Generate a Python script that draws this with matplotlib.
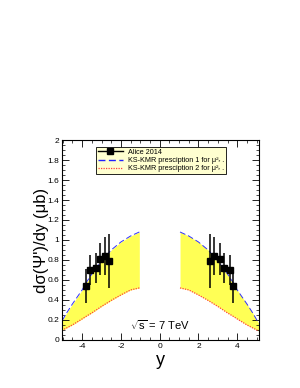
import numpy as np
import matplotlib
matplotlib.use("Agg")
import matplotlib.pyplot as plt
from matplotlib.ticker import MultipleLocator

plt.rcParams['font.family'] = ['Liberation Sans', 'DejaVu Sans']
plt.rcParams['mathtext.fontset'] = 'custom'
plt.rcParams['mathtext.rm'] = 'Liberation Sans'
plt.rcParams['mathtext.it'] = 'Liberation Sans:italic'

# ALICE 2014 psi(2S) data (forward rapidity, mirrored)
alice_y = [2.62, 2.82, 3.10, 3.30, 3.62, 3.80]
alice_val = [0.79, 0.84, 0.81, 0.72, 0.70, 0.54]
alice_err = [0.27, 0.19, 0.16, 0.15, 0.15, 0.17]

# KS-KMR band edges, |y| grid
band_y = [1.05, 1.5, 2.0, 2.5, 3.0, 3.5, 3.8, 4.0, 4.5, 4.8, 5.1]
band_hi = [1.08, 1.04, 0.98, 0.90, 0.79, 0.66, 0.57, 0.50, 0.36, 0.27, 0.17]
band_lo = [0.52, 0.50, 0.45, 0.395, 0.335, 0.27, 0.235, 0.21, 0.15, 0.12, 0.09]

fig = plt.figure(figsize=(3.0, 3.88), dpi=100)
ax = fig.add_axes([0.206, 0.124, 0.657, 0.515])

by = np.array(band_y)
hi = np.array(band_hi)
lo = np.array(band_lo)
for sgn in (-1, 1):
    xs = sgn * by
    ax.fill_between(xs, lo, hi, color='#ffff55', lw=0, zorder=1)
    ax.plot(xs, hi, color='#3030ff', ls=(0, (6, 3)), lw=0.7, zorder=2)
    ax.plot(xs, lo, color='#ff4040', ls=(0, (1, 1)), lw=0.9, zorder=2)

ay = np.array(alice_y)
av = np.array(alice_val)
ae = np.array(alice_err)
for sgn in (-1, 1):
    ax.errorbar(sgn * ay, av, yerr=ae, xerr=0.1, fmt='s', color='black',
                ms=4.5, lw=1.1, elinewidth=1.1, capsize=0, zorder=3)

# legend entries
ax.plot([], [], color='black', marker='s', ms=4, lw=1.0, label='Alice 2014')
ax.plot([], [], color='#2020ff', ls=(0, (5, 2.5)), lw=1.0,
        label='KS-KMR presciption 1 for \u03bc\u00b2\u1d63 .')
ax.plot([], [], color='#ff4040', ls=(0, (1, 1)), lw=0.9,
        label='KS-KMR presciption 2 for \u03bc\u00b2\u1d63 .')
h, l = ax.get_legend_handles_labels()
leg = ax.legend(h[-3:], l[-3:], loc='upper left', bbox_to_anchor=(0.175, 0.965),
                fontsize=5.2, frameon=True, fancybox=False, handlelength=3.4,
                borderpad=0.25, labelspacing=0.15, handletextpad=0.7,
                borderaxespad=0)
leg.get_frame().set_facecolor('#ffffd0')
leg.get_frame().set_edgecolor('black')
leg.get_frame().set_linewidth(0.6)
leg.get_frame().set_alpha(1)

ax.text(0.0, 0.15, r'$\sqrt{\rm s}$ = 7 TeV', ha='center', va='center', fontsize=8)

ax.set_xlim(-5.05, 5.12)
ax.set_ylim(0, 2)
ax.xaxis.set_major_locator(MultipleLocator(2))
ax.xaxis.set_minor_locator(MultipleLocator(0.5))
ax.yaxis.set_major_locator(MultipleLocator(0.2))
ax.yaxis.set_minor_locator(MultipleLocator(0.05))
ax.set_yticks(np.arange(0, 2.01, 0.2))
ax.set_yticklabels(['0', '0.2', '0.4', '0.6', '0.8', '1', '1.2', '1.4', '1.6', '1.8', '2'])
ax.set_xticks([-4, -2, 0, 2, 4])
ax.set_xticklabels(['-4', '-2', '0', '2', '4'])
ax.tick_params(which='both', direction='in', top=True, right=True, labelsize=6, pad=2)
ax.tick_params(which='major', length=5, width=0.6)
ax.tick_params(which='minor', length=2.5, width=0.5)
for s in ax.spines.values():
    s.set_linewidth(0.8)

ax.set_ylabel("d\u03c3(\u03a8')/dy (\u03bcb)", fontsize=12, labelpad=-1)
ax.set_xlabel('y', fontsize=13, labelpad=2)

fig.savefig('out.png', dpi=100)
